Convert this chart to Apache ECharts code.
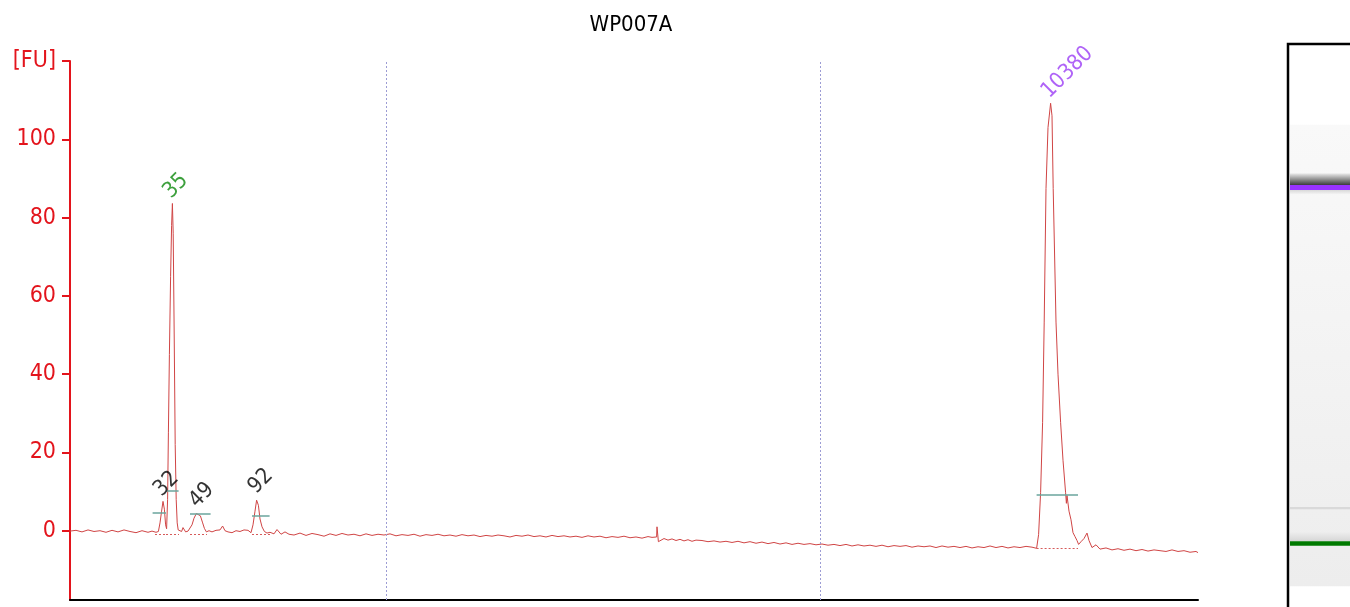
<!DOCTYPE html>
<html>
<head>
<meta charset="utf-8">
<script src="https://cdn.jsdelivr.net/npm/echarts@6/dist/echarts.min.js"></script>
<style>
html,body{margin:0;padding:0;background:#fff;}
#chart{width:1350px;height:607px;}
</style>
</head>
<body>
<div id="chart"></div>
<script>
// ---- data ----
const chartTitle = 'WP007A';
const yTickValues = [0, 20, 40, 60, 80, 100, 120];
const yTopLabel = '[FU]';
const xRange = [20, 76.4];      // time [s]
const yRange = [-17.7, 120];    // [FU]
const dividers = [35.8, 57.5];

// electropherogram trace [time, FU]
const trace = [
[20.0,-0.1],[20.3,0.1],[20.6,-0.3],[20.9,0.2],[21.2,-0.2],[21.5,0.0],[21.8,-0.4],[22.1,0.1],[22.4,-0.3],[22.7,0.2],[23.0,-0.2],[23.3,-0.5],[23.6,0.0],[23.9,-0.4],[24.1,-0.1],[24.3,-0.4],
[24.42,-0.2],[24.5,2.0],[24.58,5.0],[24.65,7.5],[24.72,5.5],[24.78,1.5],[24.83,0.5],
[24.88,8],[24.92,25],[24.97,45],[25.03,65],[25.08,78],[25.12,83.6],[25.16,76],[25.21,50],[25.26,22],[25.31,8],[25.36,2],[25.41,0.2],
[25.5,0.5],[25.58,-0.2],[25.65,0.8],[25.78,-0.3],[25.9,-0.1],
[26.0,-0.5],[26.1,1.5],[26.2,3.2],[26.32,4.4],[26.42,4.6],[26.52,3.8],[26.62,2.2],[26.72,0.6],[26.82,-0.3],
[26.95,0.0],[27.1,-0.3],[27.3,0.1],[27.5,0.2],[27.63,1.2],[27.75,0.0],[27.9,-0.3],[28.1,-0.5],[28.3,0.0],[28.5,-0.2],[28.7,0.2],[28.9,0.1],
[29.05,-0.5],[29.15,1.5],[29.25,5.0],[29.33,7.8],[29.37,8.2],[29.42,6.5],[29.5,3.0],[29.6,1.0],[29.72,-0.2],[29.85,-0.6],
[30.0,-0.4],[30.2,-0.8],[30.35,0.3],[30.55,-0.9],[30.75,-0.3],[30.85,0.2],[30.95,-0.9],[31.2,-1.1],[31.5,-0.6],[31.8,-1.2],[32.1,-0.7],[32.4,-1.0],[32.7,-1.4],[33.0,-0.8],[33.3,-1.2],[33.6,-0.7],[33.9,-1.1],[34.2,-0.9],[34.5,-1.3],[34.8,-0.8],[35.1,-1.2],[35.4,-0.9],[35.7,-1.1],
[36.0,-0.8],[36.3,-1.3],[36.6,-1.0],[36.9,-1.2],[37.2,-0.9],[37.5,-1.4],[37.8,-1.0],[38.1,-1.2],[38.4,-0.9],[38.7,-1.3],[39.0,-1.1],[39.3,-1.4],[39.6,-1.0],[39.9,-1.3],
[40.2,-1.1],[40.5,-1.5],[40.8,-1.2],[41.1,-1.4],[41.4,-1.1],[41.7,-1.3],[42.0,-1.6],[42.3,-1.2],[42.6,-1.4],[42.9,-1.1],[43.2,-1.5],[43.5,-1.3],[43.8,-1.6],[44.1,-1.2],[44.4,-1.5],[44.7,-1.3],
[45.0,-1.6],[45.3,-1.4],[45.6,-1.7],[45.9,-1.3],[46.2,-1.6],[46.5,-1.4],[46.8,-1.8],[47.1,-1.5],[47.4,-1.7],[47.7,-1.4],[48.0,-1.8],[48.3,-1.6],[48.6,-1.9],[48.9,-1.5],[49.1,-1.7],
[49.33,-1.6],[49.35,1.0],[49.4,1.0],[49.42,-2.8],[49.5,-2.6],[49.7,-2.0],[49.9,-2.4],[50.1,-2.1],[50.3,-2.5],[50.5,-2.2],[50.7,-2.6],[50.9,-2.3],[51.1,-2.7],[51.3,-2.4],[51.6,-2.5],[51.9,-2.8],
[52.2,-2.6],[52.5,-2.9],[52.8,-2.7],[53.1,-3.0],[53.4,-2.7],[53.7,-3.1],[54.0,-2.8],[54.3,-3.2],[54.6,-2.9],[54.9,-3.3],[55.2,-3.0],[55.5,-3.4],[55.8,-3.1],[56.1,-3.5],[56.4,-3.2],[56.7,-3.5],
[57.0,-3.3],[57.3,-3.6],[57.6,-3.4],[57.9,-3.7],[58.2,-3.5],[58.5,-3.8],[58.8,-3.5],[59.1,-3.9],[59.4,-3.6],[59.7,-3.9],[60.0,-3.7],[60.3,-4.0],[60.6,-3.7],[60.9,-4.1],[61.2,-3.8],[61.5,-4.0],
[61.8,-3.8],[62.1,-4.2],[62.4,-3.9],[62.7,-4.1],[63.0,-3.9],[63.3,-4.3],[63.6,-3.9],[63.9,-4.2],[64.2,-4.0],[64.5,-4.3],[64.8,-4.0],[65.1,-4.4],[65.4,-4.1],[65.7,-4.3],[66.0,-3.9],[66.3,-4.3],
[66.6,-4.0],[66.9,-4.4],[67.2,-4.1],[67.5,-4.3],[67.8,-4.0],[68.1,-4.2],[68.33,-4.5],
[68.43,-1.0],[68.53,9.7],[68.63,27.7],[68.71,53.3],[68.8,87.4],[68.9,103],[69.03,109.2],[69.1,106],[69.16,87.4],[69.3,53.3],[69.4,40],[69.53,27.7],[69.65,18],[69.78,9.7],[69.82,7.0],[69.85,9.0],[69.95,5.0],
[70.05,2.8],[70.15,-0.5],[70.25,-1.5],[70.35,-2.5],[70.43,-3.5],[70.55,-2.8],[70.7,-2.0],[70.85,-0.6],[70.95,-2.5],[71.1,-4.3],[71.3,-3.6],[71.5,-4.7],
[71.8,-4.4],[72.1,-4.9],[72.4,-4.6],[72.7,-5.0],[73.0,-4.7],[73.3,-5.1],[73.6,-4.8],[73.9,-5.2],[74.2,-4.9],[74.5,-5.1],[74.8,-5.3],[75.1,-4.9],[75.4,-5.3],[75.7,-5.1],[76.0,-5.5],[76.3,-5.3],[76.4,-5.6]
];

// called peaks
const peakNames  = ['32', '35', '49', '92', '10380'];
const peakTops   = [[24.65, 7.5], [25.12, 83.6], [26.42, 4.6], [29.37, 8.2], [69.03, 109.2]];
const peakColors = ['#000000', '#0c880c', '#000000', '#000000', '#9b3cf5'];
const peakLevel  = [4.6, 10.1, 4.4, 3.85, 9.2];
const peakStart  = [24.13, 24.83, 26.0, 29.1, 68.33];
const peakEnd    = [24.8, 25.43, 27.03, 29.98, 70.4];
const peakBase      = [-0.8, -0.8, -1.0, -1.0, -4.4];
const peakBaseStart = [24.25, 24.8, 26.0, 29.1, 68.33];
const peakBaseEnd   = [24.8, 25.45, 26.85, 30.0, 70.4];

// gel lane bands [from, to, colorTop, colorBottom] (lane position 0..100, top to bottom)
const gelBands = [
  [14.2, 96.3, '#f9f9f9', '#ededed'],
  [22.8, 24.9, '#eeeeee', '#3c3c3c'],
  [24.9, 25.8, '#9933ff', '#9933ff'],
  [25.8, 26.6, '#d8d8d8', '#f6f6f6'],
  [82.2, 82.6, '#d9d9d9', '#d9d9d9'],
  [86.6, 88.3, '#efefef', '#d6d6d6'],
  [88.3, 89.1, '#007a00', '#007a00']
];

// ---- chart ----
const FONT = "'DejaVu Sans Condensed', 'Noto Sans', 'DejaVu Sans', sans-serif";
const RED = '#e3141c';
const chart = echarts.init(document.getElementById('chart'), null, {renderer: 'canvas'});

const segLines = [];
for (let i = 0; i < peakNames.length; i++) {
  segLines.push([
    {coord: [peakStart[i], peakLevel[i]], lineStyle: {color: '#6aa59c', width: 1.5, type: 'solid'}},
    {coord: [peakEnd[i], peakLevel[i]]}
  ]);
  segLines.push([
    {coord: [peakBaseStart[i], peakBase[i]], lineStyle: {color: '#d65a5a', width: 1, type: [2, 2]}},
    {coord: [peakBaseEnd[i], peakBase[i]]}
  ]);
}

const option = {
  animation: false,
  backgroundColor: '#ffffff',
  title: {
    text: chartTitle,
    left: 626,
    textAlign: 'center',
    top: 9,
    textStyle: {fontFamily: FONT, fontSize: 22, fontWeight: 'normal', color: '#000'}
  },
  grid: [
    {left: 70, right: 152, top: 61, bottom: 7, containLabel: false},
    {left: 1290, right: 0, top: 45, bottom: 0, containLabel: false}
  ],
  xAxis: [
    {
      type: 'value', gridIndex: 0, min: xRange[0], max: xRange[1],
      axisLine: {show: true, onZero: false, lineStyle: {color: '#000', width: 2}},
      axisTick: {show: false}, axisLabel: {show: false}, splitLine: {show: false}
    },
    {type: 'value', gridIndex: 1, min: 0, max: 1, show: false}
  ],
  yAxis: [
    {
      type: 'value', gridIndex: 0, min: yRange[0], max: yRange[1],
      axisLine: {show: true, onZero: false, lineStyle: {color: RED, width: 2}},
      axisTick: {show: true, length: 8, customValues: yTickValues, lineStyle: {color: RED, width: 2}},
      axisLabel: {
        show: true, customValues: yTickValues, margin: 14, color: RED,
        fontFamily: FONT, fontSize: 23,
        formatter: v => (v === yTickValues[yTickValues.length - 1] ? yTopLabel : String(v))
      },
      splitLine: {show: false}
    },
    {type: 'value', gridIndex: 1, min: 0, max: 100, inverse: true, show: false}
  ],
  series: [
    {
      type: 'line', xAxisIndex: 0, yAxisIndex: 0,
      data: trace, showSymbol: false, symbol: 'none', smooth: false,
      lineStyle: {color: '#d04545', width: 1},
      z: 3,
      markLine: {
        silent: true, symbol: ['none', 'none'], label: {show: false},
        lineStyle: {color: '#9c9cd4', width: 1, type: [2, 2]},
        data: dividers.map(d => ({xAxis: d}))
      }
    },
    {
      type: 'scatter', xAxisIndex: 0, yAxisIndex: 0,
      symbol: 'circle', symbolSize: 1,
      itemStyle: {color: 'rgba(0,0,0,0)'},
      z: 5,
      data: peakTops.map((p, i) => ({
        value: p, name: peakNames[i],
        label: {color: peakColors[i]}
      })),
      label: {
        show: true, formatter: p => p.name,
        position: [-5, -8], rotate: 45, align: 'left', verticalAlign: 'middle',
        fontFamily: FONT, fontSize: 22
      },
      markLine: {
        silent: true, symbol: ['none', 'none'], label: {show: false},
        data: segLines
      }
    },
    {
      type: 'custom', xAxisIndex: 1, yAxisIndex: 1,
      data: gelBands,
      renderItem: (params, api) => {
        const p0 = api.coord([0, api.value(0)]);
        const p1 = api.coord([1, api.value(1)]);
        const c1 = gelBands[params.dataIndex][2];
        const c2 = gelBands[params.dataIndex][3];
        return {
          type: 'rect',
          shape: {x: p0[0], y: p0[1], width: p1[0] - p0[0], height: p1[1] - p0[1]},
          style: {fill: new echarts.graphic.LinearGradient(0, 0, 0, 1, [{offset: 0, color: c1}, {offset: 1, color: c2}])}
        };
      }
    }
  ],
  graphic: [
    {
      type: 'rect', z: 100,
      shape: {x: 1288, y: 44, width: 200, height: 700},
      style: {fill: 'none', stroke: '#000', lineWidth: 2.5}
    }
  ]
};
chart.setOption(option);
</script>
</body>
</html>
